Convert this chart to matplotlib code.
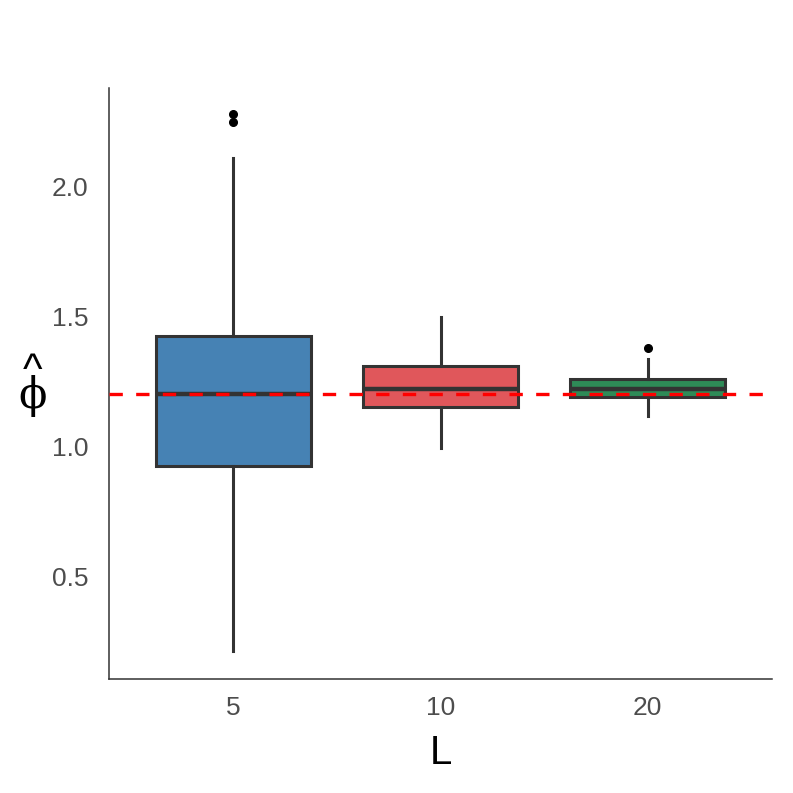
import matplotlib.pyplot as plt

# box summary stats (phi-hat estimates per L)
groups = ["5", "10", "20"]
q1 = [0.923, 1.150, 1.188]
med = [1.200, 1.219, 1.219]
q3 = [1.423, 1.306, 1.258]
whis_lo = [0.212, 0.992, 1.115]
whis_hi = [2.108, 1.496, 1.335]
outliers = [[2.246, 2.277], [], [1.377]]
true_phi = 1.2

colors = ["#4682B4", "#E0575B", "#2E8B57"]


def main():
    plt.rcParams["font.family"] = ["Liberation Sans", "DejaVu Sans"]

    fig = plt.figure(figsize=(7.93, 7.93), dpi=100)
    ax = fig.add_axes([0.1375, 0.1438, 0.836, 0.7452])

    stats = []
    for i, name in enumerate(groups):
        stats.append({
            "label": name,
            "q1": q1[i], "med": med[i], "q3": q3[i],
            "whislo": whis_lo[i], "whishi": whis_hi[i],
            "fliers": outliers[i],
        })

    edge = "#333333"
    bp = ax.bxp(
        stats, positions=range(len(groups)), widths=0.75,
        patch_artist=True, showcaps=False,
        boxprops=dict(edgecolor=edge, linewidth=2.2),
        medianprops=dict(color=edge, linewidth=3.2),
        whiskerprops=dict(color=edge, linewidth=2.2),
        flierprops=dict(marker="o", markerfacecolor="black",
                        markeredgecolor="black", markersize=5.5),
        zorder=2,
    )
    for patch, c in zip(bp["boxes"], colors):
        patch.set_facecolor(c)

    ax.axhline(true_phi, color="red", linestyle=(0, (4, 4)),
               linewidth=2.4, zorder=3)

    ax.set_xlim(-0.6, 2.6)
    ax.set_ylim(0.104, 2.377)
    ax.set_yticks([0.5, 1.0, 1.5, 2.0])
    ax.set_yticklabels(["0.5", "1.0", "1.5", "2.0"])
    ax.set_xticks(range(len(groups)))
    ax.set_xticklabels(groups)
    ax.tick_params(length=0, labelsize=19, labelcolor="#4D4D4D")
    ax.tick_params(axis="y", pad=15)
    ax.tick_params(axis="x", pad=12)

    for side in ["top", "right"]:
        ax.spines[side].set_visible(False)
    for side in ["left", "bottom"]:
        ax.spines[side].set_color("#333333")
        ax.spines[side].set_linewidth(1.1)

    ax.set_xlabel("L", fontsize=29, labelpad=10)

    # y label: upright phi with a hat above it
    ax.text(-0.116, 0.52, "^", transform=ax.transAxes, fontsize=30,
            ha="center", va="center")
    ax.text(-0.116, 0.478, "\u03d5", transform=ax.transAxes, fontsize=30,
            ha="center", va="center", family="DejaVu Serif")

    fig.savefig("out.png", dpi=100)


if __name__ == "__main__":
    main()
